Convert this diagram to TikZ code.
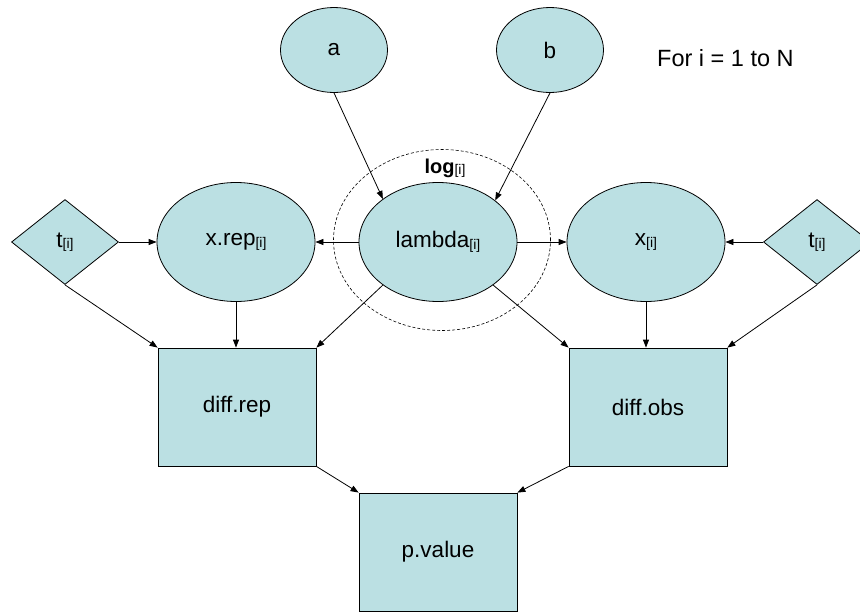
\documentclass[tikz,border=0pt]{standalone}
\usepackage{fontspec}
\setmainfont{Liberation Sans}
\usetikzlibrary{shapes.geometric,arrows.meta}
\definecolor{nodefill}{RGB}{187,224,227}
\newcommand\subi{\raisebox{-1.5pt}{\fontsize{14}{14}\selectfont[i]}}
\tikzset{
  base/.style={draw=black, fill=nodefill, line width=0.8pt, inner sep=0pt, font=\fontsize{22.5}{24}\selectfont},
  var/.style={base, ellipse, minimum width=158pt, minimum height=119pt},
  hyper/.style={base, ellipse, minimum width=107pt, minimum height=85pt},
  box/.style={base, rectangle, minimum width=158pt, minimum height=118pt},
  data/.style={base, diamond, minimum width=107pt, minimum height=85pt},
  arr/.style={-{Triangle[length=8pt,width=6pt]}, line width=0.8pt},
  plate/.style={draw=black, dash pattern=on 3pt off 2pt, line width=0.6pt, ellipse, minimum width=217pt, minimum height=181pt, inner sep=0pt}
}
\begin{document}
\begin{tikzpicture}[x=1pt,y=-1pt]
\useasboundingbox (0,0) rectangle (860,613);
\clip (0,0) rectangle (860,613);
\node[hyper] (a) at (334,50) {a};
\node[hyper] (b) at (550,50) {b};
\node[font=\fontsize{23.5}{25}\selectfont, anchor=base west, inner sep=0pt] (for) at (657,66) {For i = 1 to N};
\node[plate] (log) at (442,240) {};
\node[var] (lam) at (438,242) {lambda\subi};
\node[font=\fontsize{20}{22}\selectfont, inner sep=0pt] (loglab) at (445,168) {\textbf{log}\subi};
\node[var] (xrep) at (236,242) {x.rep\subi};
\node[var] (x) at (646,242) {x\subi};
\node[data] (tl) at (65,242) {t\subi};
\node[data] (tr) at (817,242) {t\subi};
\node[box] (drep) at (237,407) {diff.rep};
\node[box] (dobs) at (648,407) {diff.obs};
\node[box] (pv) at (438,552) {p.value};
\draw[arr] (a.south) -- (lam.142);
\draw[arr] (b.south) -- (lam.36);
\draw[arr] (lam.west) -- (xrep.east);
\draw[arr] (lam.east) -- (x.west);
\draw[arr] (tl.east) -- (xrep.west);
\draw[arr] (tr.west) -- (x.east);
\draw[arr] (tl.south) -- (drep.north west);
\draw[arr] (xrep.south) -- (xrep.south |- drep.north);
\draw[arr] (lam.218) -- (drep.north east);
\draw[arr] (lam.322) -- (dobs.north west);
\draw[arr] (x.south) -- (x.south |- dobs.north);
\draw[arr] (tr.south) -- (dobs.north east);
\draw[arr] (drep.south east) -- (pv.north west);
\draw[arr] (dobs.south west) -- (pv.north east);
\end{tikzpicture}
\end{document}
